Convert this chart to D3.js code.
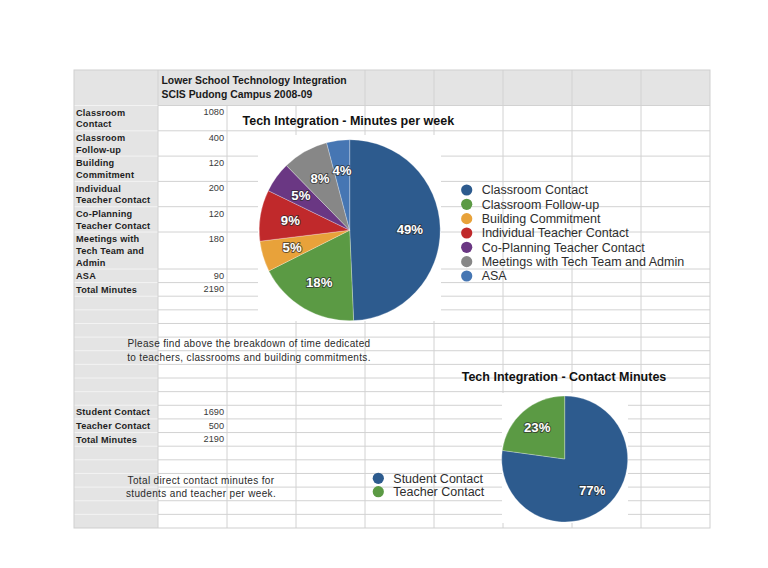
<!DOCTYPE html>
<html><head><meta charset="utf-8">
<script src="https://cdn.jsdelivr.net/npm/d3@7"></script>
<style>
html,body{margin:0;padding:0;background:#fff;}
svg{display:block;}
text{font-family:"Liberation Sans",Arial,Helvetica,sans-serif;}
</style>
</head><body>
<svg id="c" width="768" height="568"></svg>
<script>
// ---------- data ----------
const categories = ["Classroom Contact","Classroom Follow-up","Building Commitment","Individual Teacher Contact","Co-Planning Teacher Contact","Meetings with Tech Team and Admin","ASA"];
const minutes = [1080,400,120,200,120,180,90];
const rowLabelLines = [["Classroom","Contact"],["Classroom","Follow-up"],["Building","Commitment"],["Individual","Teacher Contact"],["Co-Planning","Teacher Contact"],["Meetings with","Tech Team and","Admin"],["ASA"],["Total Minutes"]];
const totalMinutes = 2190;
const contactCategories = ["Student Contact","Teacher Contact"];
const contactMinutes = [1690,500];
const contactTotal = 2190;
const sliceColors = ["#2d5b8e","#5b9a44","#e8a23a","#c0292b","#6a3783","#878787","#4676b3"];
const contactColors = ["#2d5b8e","#5b9a44"];
const headerLines = ["Lower School Technology Integration","SCIS Pudong Campus 2008-09"];
const chartTitle1 = "Tech Integration - Minutes per week";
const chartTitle2 = "Tech Integration - Contact Minutes";
const note1 = ["Please find above the breakdown of time dedicated","to teachers, classrooms and building commitments."];
const note2 = ["Total direct contact minutes for","students and teacher per week."];

// ---------- layout ----------
const svg = d3.select("#c");
const L = 74, R = 710, T = 70, B = 528, C1 = 158;
const colX = d3.scaleLinear().domain([0,8]).range([C1, R]);
const headerB = 105.5;
const lineH = 11.7, baseH = 13.6;

// upper rows
const upperRows = [];
let y = headerB;
rowLabelLines.forEach((lines,i)=>{
  const h = baseH + (lines.length-1)*lineH;
  upperRows.push({y0:y, y1:y+h, lines, value: i < minutes.length ? minutes[i] : totalMinutes});
  y += h;
});
const upperEnd = y;
const nLower = 17;
const lowerY = d3.scaleLinear().domain([0,nLower]).range([upperEnd, B]);

// backgrounds
svg.append("rect").attr("x",0).attr("y",0).attr("width",768).attr("height",568).attr("fill","#fff");
svg.append("rect").attr("x",L).attr("y",T).attr("width",R-L).attr("height",headerB-T).attr("fill","#e4e4e4");
svg.append("rect").attr("x",L).attr("y",headerB).attr("width",C1-L).attr("height",B-headerB).attr("fill","#e4e4e4");

// horizontal lines
const hLines = [headerB, ...upperRows.map(r=>r.y1), ...d3.range(1,nLower).map(k=>lowerY(k))];
const g = svg.append("g");
g.selectAll("line.h").data(hLines).join("line")
  .attr("x1",C1).attr("x2",R).attr("y1",d=>d).attr("y2",d=>d)
  .attr("stroke","#d2d2d2").attr("stroke-width",1);
g.selectAll("line.h1").data(hLines).join("line")
  .attr("x1",L).attr("x2",C1).attr("y1",d=>d).attr("y2",d=>d)
  .attr("stroke","#f3f3f3").attr("stroke-width",1);
// vertical lines (body)
g.selectAll("line.v").data(d3.range(0,8)).join("line")
  .attr("x1",d=>colX(d)).attr("x2",d=>colX(d)).attr("y1",headerB).attr("y2",B)
  .attr("stroke","#d2d2d2");
// vertical lines in header (merged title cell spans first three columns)
g.selectAll("line.vh").data([0,3,4,5,6,7]).join("line")
  .attr("x1",d=>colX(d)).attr("x2",d=>colX(d)).attr("y1",T).attr("y2",headerB)
  .attr("stroke","#d2d2d2");
// outer border
svg.append("rect").attr("x",L).attr("y",T).attr("width",R-L).attr("height",B-T)
  .attr("fill","none").attr("stroke","#cfcfcf");

// header text
svg.selectAll("text.hdr").data(headerLines).join("text")
  .attr("x",161.5).attr("y",(d,i)=>84+i*14.3)
  .attr("font-size",10.4).attr("font-weight","bold").attr("fill","#1a1a1a").text(d=>d);

// upper table labels & values
upperRows.forEach(r=>{
  svg.append("g").selectAll("text").data(r.lines).join("text")
    .attr("x",76).attr("y",(d,i)=>r.y0+10.2+i*lineH)
    .attr("font-size",9.2).attr("font-weight","bold").attr("fill","#1e1e1e")
    .attr("letter-spacing",0.2).text(d=>d);
  svg.append("text").attr("x",224).attr("y",r.y0+9.8).attr("text-anchor","end")
    .attr("font-size",9.2).attr("fill","#3a3a3a").text(r.value);
});

// lower table
const lowerLabels = [...contactCategories, "Total Minutes"];
const lowerVals = [...contactMinutes, contactTotal];
lowerLabels.forEach((lab,i)=>{
  const y0 = lowerY(8+i);
  svg.append("text").attr("x",76).attr("y",y0+10.2).attr("font-size",9.2).attr("font-weight","bold")
    .attr("fill","#1e1e1e").attr("letter-spacing",0.2).text(lab);
  svg.append("text").attr("x",224).attr("y",y0+9.8).attr("text-anchor","end")
    .attr("font-size",9.2).attr("fill","#3a3a3a").text(lowerVals[i]);
});

// notes
note1.forEach((t,i)=>{
  svg.append("text").attr("x",249).attr("y",lowerY(3+i)+10.3).attr("text-anchor","middle")
    .attr("font-size",10).attr("letter-spacing",0.33).attr("fill","#2a2a2a").text(t);
});
note2.forEach((t,i)=>{
  svg.append("text").attr("x",201).attr("y",lowerY(13+i)+10.3).attr("text-anchor","middle")
    .attr("font-size",10).attr("letter-spacing",0.35).attr("fill","#2a2a2a").text(t);
});

// chart backgrounds (hide grid)
svg.append("rect").attr("x",258).attr("y",135).attr("width",183).attr("height",186).attr("fill","#fff");
svg.append("rect").attr("x",502).attr("y",393).attr("width",126).attr("height",130).attr("fill","#fff");

// ---------- pies ----------
function drawPie(cx, cy, r, values, colors){
  const pie = d3.pie().sort(null).value(d=>d)(values);
  const arc = d3.arc().innerRadius(0).outerRadius(r);
  const lab = d3.arc().innerRadius(r*0.665).outerRadius(r*0.665);
  const gp = svg.append("g").attr("transform",`translate(${cx},${cy})`);
  gp.selectAll("path").data(pie).join("path").attr("d",arc)
    .attr("fill",(d,i)=>colors[i]).attr("stroke","#ffffff").attr("stroke-opacity",0.35).attr("stroke-width",0.8);
  const tot = d3.sum(values);
  gp.selectAll("text").data(pie).join("text")
    .attr("transform",d=>`translate(${lab.centroid(d)})`)
    .attr("text-anchor","middle").attr("dy","0.36em")
    .attr("font-size",13.2).attr("font-weight","bold").attr("fill","#fff")
    .attr("stroke","#2b2b2b").attr("stroke-width",2).attr("stroke-opacity",0.7)
    .attr("paint-order","stroke").attr("stroke-linejoin","round")
    .text(d=>Math.round(d.value/tot*100)+"%");
}
drawPie(349.7, 230.2, 90.5, minutes, sliceColors);
drawPie(564.7, 459, 63, contactMinutes, contactColors);

// titles
svg.append("text").attr("x",242.5).attr("y",124.5).attr("font-size",12.5).attr("font-weight","bold")
  .attr("fill","#111").text(chartTitle1);
svg.append("text").attr("x",461.7).attr("y",381).attr("font-size",12.5).attr("font-weight","bold")
  .attr("fill","#111").text(chartTitle2);

// legends
function legend(x, y0, step, names, colors){
  const gl = svg.append("g");
  const it = gl.selectAll("g").data(names).join("g").attr("transform",(d,i)=>`translate(${x},${y0+i*step})`);
  it.append("circle").attr("r",5.6).attr("fill",(d,i)=>colors[i]);
  it.append("text").attr("x",15).attr("dy","0.35em").attr("font-size",12.5).attr("fill","#2e2e2e").text(d=>d);
}
legend(466.7, 190, 14.33, categories, sliceColors);
legend(378.3, 478.3, 13.4, contactCategories, contactColors);
</script>
</body></html>
